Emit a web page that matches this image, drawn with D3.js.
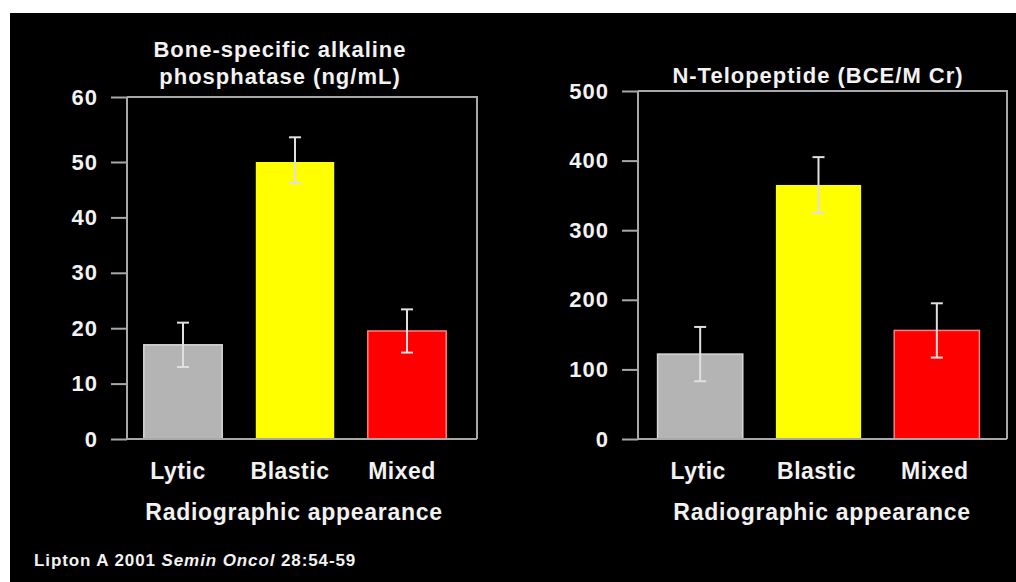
<!DOCTYPE html>
<html><head><meta charset="utf-8">
<script src="https://cdn.jsdelivr.net/npm/d3@7"></script>
<style>
html,body{margin:0;padding:0;background:#fff;}
svg{display:block;}
text{font-family:"Liberation Sans",Arial,sans-serif;fill:#f2f2f2;}
</style></head>
<body>
<script>
const categories = ["Lytic", "Blastic", "Mixed"];
const colors = ["#b4b4b4", "#ffff00", "#ff0000"];
const balpValues = [17, 50, 19.5];
const balpErrors = [4, 3.8, 3.9];
const ntxValues = [122, 365, 156];
const ntxErrors = [39, 40, 39];
const balpTicks = [0, 10, 20, 30, 40, 50, 60];
const ntxTicks = [0, 100, 200, 300, 400, 500];

const W = 1016, H = 582;
const FONT = "'Liberation Sans',Arial,sans-serif";
const svg = d3.select("body").append("svg").attr("width", W).attr("height", H);
svg.append("rect").attr("x", 0).attr("y", 0).attr("width", W).attr("height", H).attr("fill", "#fff");
svg.append("rect").attr("x", 10).attr("y", 13).attr("width", W - 10).attr("height", H - 13).attr("fill", "#000");

function panel(cfg) {
  const g = svg.append("g");
  const x = d3.scaleBand().domain(categories).range(cfg.xRange).paddingInner(cfg.pi).paddingOuter(cfg.po);
  const y = cfg.y;
  const axisColor = "#a8a8a8";
  g.append("path")
    .attr("d", `M${cfg.axisX},${cfg.top}H${cfg.right}V${y(0)}`)
    .attr("fill", "none").attr("stroke", axisColor).attr("stroke-width", 2);
  g.selectAll("rect.bar").data(cfg.values).join("rect")
    .attr("class", "bar")
    .attr("x", (d, i) => x(categories[i]))
    .attr("width", x.bandwidth())
    .attr("y", d => y(d))
    .attr("height", d => y(0) - y(d))
    .attr("fill", (d, i) => colors[i])
    .attr("stroke", (d, i) => i === 1 ? "none" : (i === 0 ? "#d8d8d8" : "#ff8080"))
    .attr("stroke-width", 1.5);
  cfg.values.forEach((v, i) => {
    const cx = x(categories[i]) + x.bandwidth() / 2;
    const e = cfg.errors[i];
    const eg = g.append("g").attr("stroke", "#e0e0e0").attr("stroke-width", 2);
    eg.append("line").attr("x1", cx).attr("x2", cx).attr("y1", y(v + e)).attr("y2", y(v - e));
    eg.append("line").attr("x1", cx - 6).attr("x2", cx + 6).attr("y1", y(v + e)).attr("y2", y(v + e));
    eg.append("line").attr("x1", cx - 6).attr("x2", cx + 6).attr("y1", y(v - e)).attr("y2", y(v - e));
  });
  const ax = g.append("g").attr("transform", `translate(${cfg.axisX},0)`)
    .call(d3.axisLeft(y).tickValues(cfg.ticks).tickSize(16).tickPadding(13).tickFormat(d3.format("d")));
  ax.select(".domain").attr("stroke", axisColor).attr("stroke-width", 2)
    .attr("d", `M0,${cfg.top}V${y(0)}`);
  ax.selectAll(".tick line").attr("stroke", axisColor).attr("stroke-width", 2);
  ax.selectAll(".tick text").attr("fill", "#f2f2f2").style("font-size", "22px").style("font-weight", "bold")
    .style("letter-spacing", "1px").style("font-family", FONT);
  g.append("line").attr("x1", cfg.axisX).attr("x2", cfg.right).attr("y1", y(0)).attr("y2", y(0))
    .attr("stroke", axisColor).attr("stroke-width", 2);
  const xa = g.append("g").attr("transform", `translate(0,${y(0)})`)
    .call(d3.axisBottom(x).tickSize(0).tickPadding(24));
  xa.select(".domain").remove();
  xa.selectAll(".tick text").attr("fill", "#f2f2f2").attr("dx", cfg.labelDx)
    .style("font-size", "23px").style("font-weight", "bold")
    .style("letter-spacing", "0.5px").style("font-family", FONT);
  g.append("text").attr("x", cfg.xTitleX).attr("y", 520).attr("text-anchor", "middle")
    .style("font-size", "23px").style("font-weight", "bold").style("letter-spacing", "0.7px")
    .text("Radiographic appearance");
  cfg.title.forEach((t, i) => {
    g.append("text").attr("x", cfg.titleX).attr("y", cfg.titleY + i * 27).attr("text-anchor", "middle")
      .style("font-size", "22px").style("font-weight", "bold").style("letter-spacing", "1px").text(t);
  });
}

panel({
  xRange: [127, 463], pi: 0.30, po: 0.15,
  y: d3.scaleLinear().domain([0, 50, 60]).range([439, 162, 97]),
  values: balpValues, errors: balpErrors, ticks: balpTicks,
  axisX: 127, top: 97, right: 477,
  title: ["Bone-specific alkaline", "phosphatase (ng/mL)"], titleX: 280, titleY: 57,
  xTitleX: 294, labelDx: -5
});

panel({
  xRange: [641, 996], pi: 0.28, po: 0.14,
  y: d3.scaleLinear().domain([0, 500]).range([439, 91]),
  values: ntxValues, errors: ntxErrors, ticks: ntxTicks,
  axisX: 638, top: 91, right: 1007,
  title: ["N-Telopeptide (BCE/M Cr)"], titleX: 818, titleY: 83,
  xTitleX: 822, labelDx: -2
});

const foot = svg.append("text").attr("x", 34).attr("y", 566)
  .style("font-size", "17px").style("font-weight", "bold").style("letter-spacing", "0.9px");
foot.append("tspan").text("Lipton A 2001 ");
foot.append("tspan").style("font-style", "italic").text("Semin Oncol");
foot.append("tspan").text(" 28:54-59");
</script>
</body></html>
